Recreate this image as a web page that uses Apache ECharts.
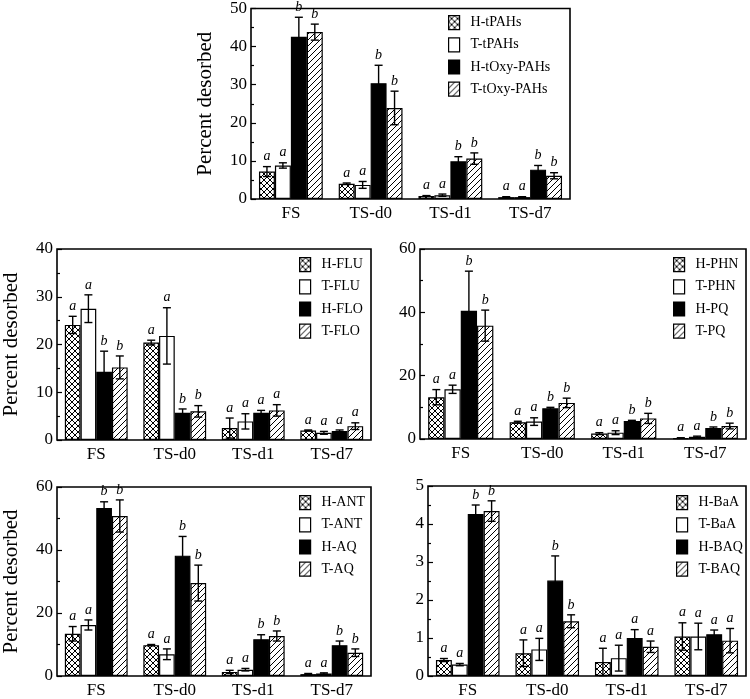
<!DOCTYPE html>
<html>
<head>
<meta charset="utf-8">
<script src="https://cdn.jsdelivr.net/npm/echarts@6/dist/echarts.min.js"></script>
<style>
  html, body { margin: 0; padding: 0; background: #fff; }
  #main { width: 750px; height: 699px; }
</style>
</head>
<body>
<div id="main"></div>
<script>
const categories = ['FS', 'TS-d0', 'TS-d1', 'TS-d7'];

// panel 1: tPAHs / tOxy-PAHs
const p1Names = ['H-tPAHs', 'T-tPAHs', 'H-tOxy-PAHs', 'T-tOxy-PAHs'];
const p1Values = [[7.2, 4.0, 0.8, 0.5], [8.8, 3.7, 1.0, 0.5], [42.6, 30.4, 9.9, 7.7], [43.8, 23.9, 10.6, 6.1]];
const p1Errors = [[1.3, 0.2, 0.1, 0.1], [0.7, 0.9, 0.3, 0.1], [5.1, 4.7, 1.2, 1.1], [2.1, 4.4, 1.5, 0.8]];
const p1Letters = [['a', 'a', 'a', 'a'], ['a', 'a', 'a', 'a'], ['b', 'b', 'b', 'b'], ['b', 'b', 'b', 'b']];
const p1Ticks = [0, 10, 20, 30, 40, 50];

// panel 2: FLU / FLO
const p2Names = ['H-FLU', 'T-FLU', 'H-FLO', 'T-FLO'];
const p2Values = [[24.1, 20.4, 2.5, 2.0], [27.5, 21.8, 3.9, 1.5], [14.3, 5.7, 5.7, 1.9], [15.2, 6.0, 6.2, 2.9]];
const p2Errors = [[1.8, 0.5, 2.1, 0.1], [2.9, 5.9, 1.6, 0.3], [4.3, 0.8, 0.5, 0.2], [2.4, 1.2, 1.2, 0.7]];
const p2Letters = [['a', 'a', 'a', 'a'], ['a', 'a', 'a', 'a'], ['b', 'b', 'a', 'a'], ['b', 'b', 'a', 'a']];
const p2Ticks = [0, 10, 20, 30, 40];

// panel 3: PHN / PQ
const p3Names = ['H-PHN', 'T-PHN', 'H-PQ', 'T-PQ'];
const p3Values = [[13.2, 5.3, 1.7, 0.3], [15.7, 5.5, 2.0, 0.7], [40.5, 9.7, 5.7, 3.5], [35.8, 11.4, 6.5, 4.1]];
const p3Errors = [[2.4, 0.3, 0.3, 0.1], [1.3, 1.2, 0.6, 0.2], [12.5, 0.3, 0.2, 0.3], [4.9, 1.5, 1.6, 0.9]];
const p3Letters = [['a', 'a', 'a', 'a'], ['a', 'a', 'a', 'a'], ['b', 'b', 'b', 'b'], ['b', 'b', 'b', 'b']];
const p3Ticks = [0, 20, 40, 60];

// panel 4: ANT / AQ
const p4Names = ['H-ANT', 'T-ANT', 'H-AQ', 'T-AQ'];
const p4Values = [[13.4, 9.8, 1.3, 0.6], [16.2, 6.9, 2.0, 0.8], [53.3, 38.2, 11.7, 9.8], [50.8, 29.5, 12.7, 7.4]];
const p4Errors = [[2.3, 0.2, 0.5, 0.2], [1.6, 1.7, 0.4, 0.2], [2.0, 6.1, 1.4, 1.3], [5.1, 5.7, 1.6, 1.2]];
const p4Letters = [['a', 'a', 'a', 'a'], ['a', 'a', 'a', 'a'], ['b', 'b', 'b', 'b'], ['b', 'b', 'b', 'b']];
const p4Ticks = [0, 20, 40, 60];

// panel 5: BaA / BAQ
const p5Names = ['H-BaA', 'T-BaA', 'H-BAQ', 'T-BAQ'];
const p5Values = [[0.42, 0.60, 0.37, 1.04], [0.30, 0.70, 0.47, 1.04], [4.26, 2.51, 1.00, 1.10], [4.34, 1.44, 0.77, 0.93]];
const p5Errors = [[0.04, 0.35, 0.36, 0.36], [0.03, 0.29, 0.34, 0.35], [0.24, 0.65, 0.22, 0.11], [0.27, 0.17, 0.15, 0.32]];
const p5Letters = [['a', 'a', 'a', 'a'], ['a', 'a', 'a', 'a'], ['b', 'b', 'a', 'a'], ['b', 'b', 'a', 'a']];
const p5Ticks = [0, 1, 2, 3, 4, 5];

const serif = '"Liberation Serif", "Times New Roman", serif';

// fill patterns: cross hatch, white, black, "/" hatch
function makePattern(kind) {
    const c = document.createElement('canvas');
    c.width = 6;
    c.height = 6;
    const ctx = c.getContext('2d');
    ctx.fillStyle = '#fff';
    ctx.fillRect(0, 0, 6, 6);
    ctx.strokeStyle = '#000';
    ctx.lineWidth = 1;
    ctx.beginPath();
    if (kind === 'cross') {
        ctx.moveTo(-1, -1); ctx.lineTo(7, 7);
        ctx.moveTo(-1, 7); ctx.lineTo(7, -1);
    } else {
        ctx.moveTo(-1, 7); ctx.lineTo(7, -1);
        ctx.moveTo(-1, 1); ctx.lineTo(1, -1);
        ctx.moveTo(5, 7); ctx.lineTo(7, 5);
    }
    ctx.stroke();
    return c;
}
const fills = [
    { image: makePattern('cross'), repeat: 'repeat' },
    '#fff',
    '#000',
    { image: makePattern('hatch'), repeat: 'repeat' }
];

const panels = [
    { names: p1Names, values: p1Values, errors: p1Errors, letters: p1Letters, ticks: p1Ticks,
      grid: { left: 251, top: 7, width: 319, height: 192 }, legend: { left: 448, top: 15 }, yName: 'Percent desorbed' },
    { names: p2Names, values: p2Values, errors: p2Errors, letters: p2Letters, ticks: p2Ticks,
      grid: { left: 56, top: 249, width: 315, height: 191 }, legend: { left: 299, top: 257 }, yName: 'Percent desorbed' },
    { names: p3Names, values: p3Values, errors: p3Errors, letters: p3Letters, ticks: p3Ticks,
      grid: { left: 420, top: 249, width: 326, height: 190 }, legend: { left: 673, top: 257 }, yName: '' },
    { names: p4Names, values: p4Values, errors: p4Errors, letters: p4Letters, ticks: p4Ticks,
      grid: { left: 55, top: 487, width: 316, height: 190 }, legend: { left: 299, top: 495 }, yName: 'Percent desorbed' },
    { names: p5Names, values: p5Values, errors: p5Errors, letters: p5Letters, ticks: p5Ticks,
      grid: { left: 428, top: 486, width: 318, height: 191 }, legend: { left: 676, top: 495 }, yName: '' }
];

const option = {
    animation: false,
    backgroundColor: '#fff',
    grid: [], xAxis: [], yAxis: [], legend: [], series: []
};

panels.forEach(function (p, k) {
    option.grid.push(Object.assign({ show: true, borderColor: '#000', borderWidth: 1.6, backgroundColor: 'transparent' }, p.grid));
    option.xAxis.push({
        type: 'category', gridIndex: k, data: categories,
        axisLine: { show: false }, axisTick: { show: false },
        axisLabel: { color: '#000', fontSize: 17, fontFamily: serif, margin: 6 }
    });
    const t = p.ticks;
    option.yAxis.push({
        type: 'value', gridIndex: k, min: t[0], max: t[t.length - 1], interval: t[1] - t[0],
        name: p.yName, nameLocation: 'middle', nameGap: 35,
        nameTextStyle: { color: '#000', fontSize: 21, fontFamily: serif },
        axisLine: { show: false },
        axisTick: { show: true, inside: true, length: 5, lineStyle: { color: '#000', width: 1.2 } },
        minorTick: { show: true, splitNumber: 2, length: 3, lineStyle: { color: '#000', width: 1.2 } },
        splitLine: { show: false },
        axisLabel: { color: '#000', fontSize: 17, fontFamily: serif, margin: 4 }
    });
    option.legend.push(Object.assign({
        orient: 'vertical', icon: 'rect', itemWidth: 11, itemHeight: 14, itemGap: 7, padding: 0,
        data: p.names,
        textStyle: { color: '#000', fontSize: 14, fontFamily: serif, padding: [0, 0, 0, 6] },
        itemStyle: { borderColor: '#000', borderWidth: 1.2 }
    }, p.legend));

    p.names.forEach(function (name, i) {
        option.series.push({
            name: name, type: 'bar', xAxisIndex: k, yAxisIndex: k,
            data: p.values[i], barGap: '0%', barCategoryGap: '20%',
            itemStyle: { color: fills[i], borderColor: '#000', borderWidth: 1.2 }
        });
    });

    // error bars and significance letters
    const errData = [];
    p.names.forEach(function (name, i) {
        categories.forEach(function (c, j) {
            errData.push([j, p.values[i][j], p.errors[i][j], i, p.letters[i][j]]);
        });
    });
    option.series.push({
        type: 'custom', xAxisIndex: k, yAxisIndex: k, z: 10,
        data: errData,
        renderItem: function (params, api) {
            const cat = api.value(0), val = api.value(1), err = api.value(2), idx = api.value(3);
            const letter = errData[params.dataIndex][4];
            const bw = api.size([1, 0])[0] * 0.2;
            const x = api.coord([cat, val])[0] + (idx - 1.5) * bw;
            const yTop = api.coord([cat, val + err])[1];
            const yBot = api.coord([cat, Math.max(val - err, 0)])[1];
            const style = { stroke: '#000', lineWidth: 1.4 };
            return {
                type: 'group',
                children: [
                    { type: 'line', shape: { x1: x, y1: yTop, x2: x, y2: yBot }, style: style },
                    { type: 'line', shape: { x1: x - 4, y1: yTop, x2: x + 4, y2: yTop }, style: style },
                    { type: 'line', shape: { x1: x - 4, y1: yBot, x2: x + 4, y2: yBot }, style: style },
                    { type: 'text', x: x, y: yTop - 3,
                      style: { text: letter, fill: '#000', font: 'italic 14px ' + serif, textAlign: 'center', textVerticalAlign: 'bottom' } }
                ]
            };
        }
    });
});

const chart = echarts.init(document.getElementById('main'));
chart.setOption(option);
</script>
</body>
</html>
